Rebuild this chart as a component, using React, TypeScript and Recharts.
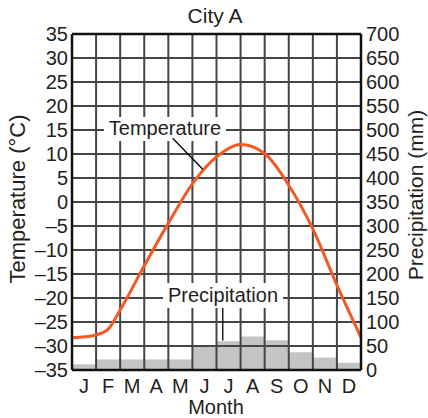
import { ComposedChart, Bar, Line, XAxis, YAxis, ReferenceLine, ReferenceDot, Label } from 'recharts';

const months = ['J', 'F', 'M', 'A', 'M', 'J', 'J', 'A', 'S', 'O', 'N', 'D'];
const precipitation = [12, 22, 22, 22, 22, 50, 60, 70, 62, 37, 26, 15]; // mm
const tempMonthPos = [0, 1, 1.5, 2, 3, 4, 5, 6, 7, 8, 9, 10, 11, 12];
const temperature = [-28.3, -27.7, -26.5, -22.5, -13.3, -4.4, 3.8, 9.4, 12.0, 10.1, 3.5, -5.6, -17.3, -28.2]; // °C
const tempTicks = [-35, -30, -25, -20, -15, -10, -5, 0, 5, 10, 15, 20, 25, 30, 35];
const precipTicks = [0, 50, 100, 150, 200, 250, 300, 350, 400, 450, 500, 550, 600, 650, 700];
const monthLines = [1, 2, 3, 4, 5, 6, 7, 8, 9, 10, 11];

const precipData = months.map((m, i) => ({ idx: i, month: m, precip: precipitation[i] }));
const tempData = tempMonthPos.map((m, i) => ({ m, temp: temperature[i] }));

const FONT = '"Liberation Sans", Arial, Helvetica, sans-serif';
const INK = '#231f20';
const GRID = '#454545';
const ORANGE = '#f15a22';

const fmtTemp = (v: number) => (v < 0 ? '\u2013' + Math.abs(v) : String(v));

function calloutBox(text: string, w: number, h: number, dy: number, baseline: number) {
  return (props: any) => {
    const { cx, cy } = props;
    return (
      <g>
        <rect x={cx - w / 2} y={cy + dy} width={w} height={h} fill="#fff" />
        <text x={cx} y={cy + baseline} textAnchor="middle" fontSize={20} fill={INK} fontFamily={FONT}>
          {text}
        </text>
      </g>
    );
  };
}

export default function App() {
  return (
    <div style={{ position: 'absolute', left: 0, top: 0, background: '#fff' }}>
      <ComposedChart
        width={428}
        height={418}
        data={precipData}
        margin={{ top: 0, right: 0, bottom: 0, left: 0 }}
        barCategoryGap={0}
        style={{ fontFamily: FONT }}
      >
        <XAxis
          xAxisId="num"
          dataKey="m"
          type="number"
          domain={[0, 12]}
          allowDataOverflow
          orientation="top"
          height={34}
          tick={false}
          tickLine={false}
          axisLine={false}
        >
          <Label
            content={() => (
              <text x={215} y={23} textAnchor="middle" fontSize={21} fill={INK} fontFamily={FONT}>
                City A
              </text>
            )}
          />
        </XAxis>
        <XAxis
          xAxisId="cat"
          dataKey="idx"
          type="category"
          height={48}
          tickFormatter={(i: number) => months[i]}
          tick={{ fontSize: 20, fill: INK }}
          tickLine={false}
          tickSize={0}
          tickMargin={9}
          axisLine={false}
          interval={0}
        >
          <Label
            content={() => (
              <text x={216} y={414} textAnchor="middle" fontSize={20} fill={INK} fontFamily={FONT}>
                Month
              </text>
            )}
          />
        </XAxis>
        <YAxis
          yAxisId="temp"
          orientation="left"
          width={72}
          domain={[-35, 35]}
          ticks={tempTicks}
          interval={0}
          tickFormatter={fmtTemp}
          tick={{ fontSize: 20, fill: INK }}
          tickLine={false}
          tickSize={0}
          tickMargin={4}
          axisLine={false}
        >
          <Label
            content={() => (
              <text x={25} y={199} transform="rotate(-90 25 199)" textAnchor="middle" fontSize={22} fill={INK} fontFamily={FONT}>
                Temperature (°C)
              </text>
            )}
          />
        </YAxis>
        <YAxis
          yAxisId="precip"
          orientation="right"
          width={67}
          domain={[0, 700]}
          ticks={precipTicks}
          interval={0}
          tick={{ fontSize: 20, fill: INK, textAnchor: 'start' }}
          tickLine={false}
          tickSize={0}
          tickMargin={5}
          axisLine={false}
        >
          <Label
            content={() => (
              <text x={423} y={195} transform="rotate(-90 423 195)" textAnchor="middle" fontSize={21} fill={INK} fontFamily={FONT}>
                Precipitation (mm)
              </text>
            )}
          />
        </YAxis>

        <Bar xAxisId="cat" yAxisId="precip" dataKey="precip" fill="#c4c4c4" isAnimationActive={false} zIndex={200} />

        {monthLines.map((m) => (
          <ReferenceLine key={'v' + m} xAxisId="num" yAxisId="temp" x={m} stroke={GRID} strokeWidth={2} zIndex={300} />
        ))}
        {tempTicks.slice(1, -1).map((t) => (
          <ReferenceLine key={'h' + t} xAxisId="num" yAxisId="temp" y={t} stroke={GRID} strokeWidth={2} zIndex={300} />
        ))}

        <Line
          xAxisId="num"
          yAxisId="temp"
          data={tempData}
          dataKey="temp"
          type="monotone"
          stroke={ORANGE}
          strokeWidth={3}
          dot={false}
          activeDot={false}
          isAnimationActive={false}
          zIndex={400}
        />

        {/* plot frame */}
        <ReferenceLine xAxisId="num" yAxisId="temp" x={0} stroke="#111" strokeWidth={2.5} zIndex={500} />
        <ReferenceLine xAxisId="num" yAxisId="temp" x={12} stroke="#111" strokeWidth={2.5} zIndex={500} />
        <ReferenceLine xAxisId="num" yAxisId="temp" y={-35} stroke="#111" strokeWidth={2.5} zIndex={500} />
        <ReferenceLine xAxisId="num" yAxisId="temp" y={35} stroke="#111" strokeWidth={2.5} zIndex={500} />

        {/* callouts */}
        <ReferenceDot xAxisId="num" yAxisId="temp" x={3.86} y={15} r={1} shape={calloutBox('Temperature', 122, 24, -13, 5)} zIndex={600} />
        <ReferenceDot xAxisId="num" yAxisId="temp" x={6.27} y={-20} r={1} shape={calloutBox('Precipitation', 120, 25, -15, 4)} zIndex={600} />
        <ReferenceLine xAxisId="num" yAxisId="temp" segment={[{ x: 4.18, y: 13.27 }, { x: 5.43, y: 6.81 }]} stroke="#000" strokeWidth={1.3} zIndex={600} />
        <ReferenceLine xAxisId="num" yAxisId="temp" segment={[{ x: 6.26, y: -22.08 }, { x: 6.26, y: -28.85 }]} stroke="#000" strokeWidth={1.3} zIndex={600} />
      </ComposedChart>
    </div>
  );
}
